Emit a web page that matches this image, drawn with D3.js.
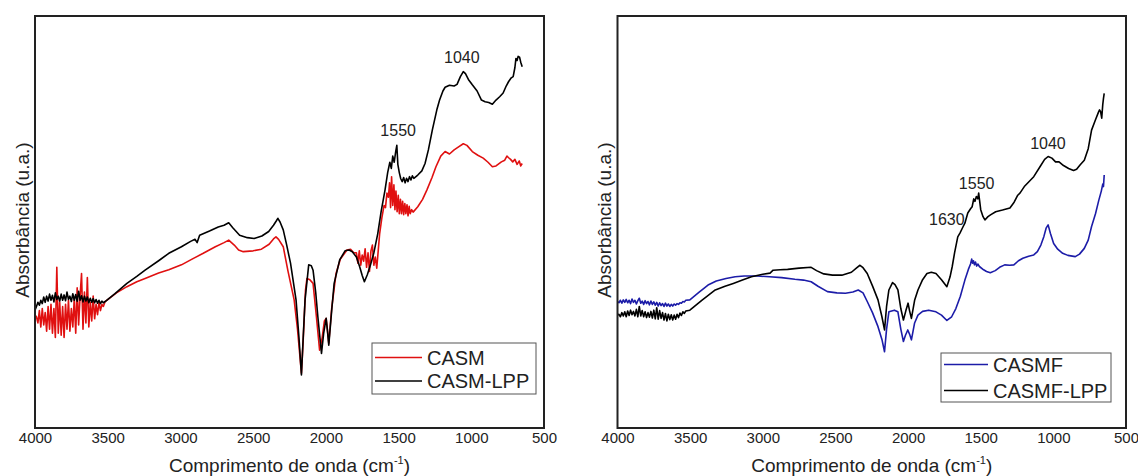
<!DOCTYPE html>
<html>
<head>
<meta charset="utf-8">
<script src="https://cdn.jsdelivr.net/npm/d3@7"></script>
<style>
  html, body { margin: 0; padding: 0; background: #fff; }
  svg { display: block; font-family: Arial, "Liberation Sans", sans-serif; }
</style>
</head>
<body>
<svg id="chart" width="1138" height="476"></svg>
<script>
// ---------- DATA (wavenumber cm-1, absorbance a.u.) ----------
const xTicks = [4000, 3500, 3000, 2500, 2000, 1500, 1000, 500];

const casm = [
  [4000,27.4],[3990,27.0],[3980,25.5],[3970,28.5],[3960,24.5],[3950,29.0],[3940,25.0],[3930,28.0],[3920,23.5],
  [3910,29.5],[3900,24.0],[3890,30.0],[3880,23.0],[3870,29.0],[3860,22.0],[3850,39.0],[3840,23.0],[3830,30.5],
  [3820,22.5],[3810,29.5],[3800,22.0],[3790,30.0],[3780,24.0],[3770,31.0],[3760,23.5],[3750,29.0],[3740,24.5],
  [3730,31.5],[3720,23.0],[3710,34.0],[3700,25.0],[3690,32.0],[3680,37.5],[3670,24.0],[3660,33.0],[3650,25.5],
  [3640,36.5],[3630,24.5],[3620,30.5],[3610,26.0],[3600,32.0],[3590,26.5],[3580,30.0],[3570,27.5],[3560,30.5],
  [3550,28.5],[3540,30.0],[3530,29.5],[3518,30.7],[3440,32.8],[3368,34.3],[3300,35.5],[3243,36.3],[3150,37.6],
  [3080,38.4],[2993,39.6],[2920,41.0],[2843,42.4],[2760,44.0],[2700,45.0],[2668,45.6],[2630,44.4],[2600,43.2],
  [2568,42.8],[2500,43.0],[2443,43.4],[2390,44.6],[2360,45.9],[2343,46.4],[2325,45.8],[2293,44.0],[2260,38.0],
  [2218,31.1],[2195,24.0],[2168,13.3],[2155,22.0],[2140,33.5],[2130,36.3],[2110,36.0],[2088,35.1],[2065,27.0],
  [2043,18.9],[2025,22.0],[2010,26.0],[1998,26.6],[1990,24.0],[1980,20.6],[1960,29.0],[1930,37.5],[1900,41.0],
  [1855,43.2],[1830,43.4],[1810,42.6],[1790,42.5],[1780,40.0],[1770,43.0],[1760,39.5],[1750,42.0],[1740,40.5],
  [1730,43.5],[1720,39.0],[1710,42.5],[1700,38.0],[1690,43.0],[1680,44.4],[1670,39.5],[1660,41.5],[1650,38.8],
  [1640,43.0],[1630,47.2],[1615,51.0],[1600,54.0],[1590,53.5],[1580,57.0],[1570,56.0],[1562,59.5],[1555,53.5],
  [1548,61.0],[1540,54.0],[1532,59.0],[1525,53.0],[1518,57.5],[1510,52.5],[1502,56.5],[1495,52.0],[1487,55.5],
  [1480,52.0],[1472,55.0],[1465,51.8],[1457,54.5],[1450,52.0],[1442,54.2],[1435,51.5],[1427,53.8],[1420,52.0],
  [1410,53.0],[1400,52.4],[1368,53.7],[1335,55.5],[1305,57.8],[1270,60.8],[1243,63.4],[1210,66.0],[1180,67.1],
  [1150,66.5],[1118,67.5],[1085,68.3],[1055,69.0],[1030,68.6],[993,67.1],[955,66.2],[918,65.5],[885,64.5],
  [855,63.4],[830,63.6],[793,64.6],[770,65.0],[755,66.0],[743,65.6],[730,65.2],[715,64.6],[700,65.2],[685,64.0],
  [670,64.8],[660,63.6],[650,64.2]
];

const casmLpp = [
  [4000,28.6],[3990,29.5],[3980,30.5],[3970,29.8],[3960,31.0],[3950,30.2],[3940,31.8],[3930,30.5],[3920,32.0],
  [3910,30.8],[3900,32.5],[3890,31.0],[3880,32.2],[3870,30.6],[3860,32.8],[3850,31.2],[3840,32.0],[3830,30.8],
  [3820,32.5],[3810,31.0],[3800,32.3],[3790,30.9],[3780,33.0],[3770,31.2],[3760,32.0],[3750,30.7],[3740,32.6],
  [3730,31.0],[3720,32.4],[3710,30.8],[3700,33.2],[3690,31.0],[3680,32.1],[3670,30.6],[3660,32.0],[3650,30.8],
  [3640,31.8],[3630,30.4],[3620,31.5],[3610,30.5],[3600,31.4],[3590,30.4],[3580,31.2],[3570,30.3],[3560,31.0],
  [3550,30.2],[3540,30.8],[3530,30.4],[3518,30.7],[3450,32.6],[3368,35.1],[3300,36.8],[3243,38.3],[3150,40.6],
  [3080,42.4],[2993,44.0],[2930,45.3],[2900,45.8],[2885,45.0],[2868,46.8],[2800,47.8],[2740,48.8],[2700,49.2],
  [2668,49.8],[2640,48.6],[2593,46.8],[2540,46.2],[2493,46.0],[2440,46.6],[2393,47.7],[2360,49.2],[2340,50.3],
  [2330,50.9],[2315,50.0],[2293,48.1],[2270,44.5],[2243,40.0],[2205,31.1],[2185,22.0],[2168,12.9],[2155,22.5],
  [2143,31.1],[2118,39.6],[2100,39.4],[2088,38.3],[2070,33.0],[2055,27.0],[2030,18.1],[2015,23.0],[1998,26.6],
  [1990,24.0],[1980,20.1],[1960,28.5],[1943,35.1],[1905,40.8],[1868,43.0],[1840,43.2],[1818,42.8],[1790,41.5],
  [1768,39.2],[1750,37.0],[1735,35.5],[1715,37.2],[1693,39.6],[1670,42.5],[1643,47.2],[1620,52.5],[1593,57.8],
  [1575,62.0],[1560,64.5],[1550,63.0],[1540,66.0],[1530,64.5],[1520,67.0],[1512,68.6],[1505,64.0],[1495,62.0],
  [1485,60.5],[1475,59.8],[1465,60.8],[1455,59.5],[1445,60.6],[1435,59.8],[1425,61.0],[1415,60.2],[1405,61.2],
  [1395,60.6],[1368,61.4],[1340,62.4],[1318,64.2],[1295,67.5],[1268,72.3],[1235,77.5],[1218,79.6],[1195,81.8],
  [1180,82.7],[1150,83.2],[1118,83.0],[1098,83.4],[1075,85.3],[1055,86.5],[1040,86.0],[1020,84.6],[993,83.3],
  [960,81.8],[930,79.6],[905,79.2],[880,79.0],[855,78.6],[830,79.6],[805,80.4],[781,81.3],[760,83.0],[743,84.1],
  [725,85.0],[712,85.3],[700,87.5],[693,89.7],[685,89.2],[678,90.2],[668,90.0],[660,88.8],[650,87.7]
];

const casmf = [
  [4000,30.7],[3990,30.4],[3980,31.0],[3970,30.3],[3960,31.1],[3950,30.5],[3940,31.2],[3930,30.4],[3920,31.0],
  [3910,30.2],[3900,31.3],[3890,30.5],[3880,31.0],[3870,30.1],[3860,30.9],[3850,31.5],[3840,30.3],[3830,30.8],
  [3820,30.0],[3810,30.9],[3800,30.2],[3790,30.7],[3780,29.9],[3770,30.8],[3760,30.0],[3750,30.6],[3740,29.8],
  [3730,30.5],[3720,29.6],[3710,30.4],[3700,29.7],[3690,30.2],[3680,29.5],[3670,30.3],[3660,29.6],[3650,30.1],
  [3640,29.5],[3630,30.0],[3620,29.6],[3610,30.1],[3600,29.8],[3590,30.2],[3580,30.0],[3570,30.4],[3560,30.3],
  [3550,30.7],[3540,30.6],[3530,31.0],[3502,31.1],[3440,32.9],[3377,34.7],[3320,35.7],[3253,36.3],[3190,36.7],
  [3128,36.9],[3040,36.9],[2954,36.7],[2870,36.5],[2779,36.1],[2720,35.9],[2667,35.5],[2620,34.4],[2555,33.1],
  [2490,32.8],[2431,32.7],[2380,33.0],[2343,33.5],[2310,32.8],[2281,30.7],[2245,28.0],[2207,24.6],[2180,21.5],
  [2162,18.5],[2148,24.0],[2132,28.2],[2094,28.6],[2070,28.2],[2050,24.0],[2032,21.0],[2018,22.5],[2002,23.8],
  [1990,22.8],[1977,21.4],[1955,25.5],[1932,27.4],[1900,28.3],[1858,28.6],[1808,28.2],[1770,27.4],[1733,26.1],
  [1700,27.0],[1671,29.0],[1640,32.0],[1609,35.9],[1585,38.5],[1570,39.8],[1562,41.0],[1556,40.0],[1550,40.6],
  [1543,39.6],[1536,40.3],[1528,39.3],[1520,39.8],[1509,39.2],[1480,38.4],[1460,38.0],[1434,37.7],[1400,38.2],
  [1370,39.0],[1335,39.6],[1300,39.5],[1272,39.6],[1240,40.6],[1210,41.2],[1170,41.7],[1135,42.0],[1110,42.8],
  [1086,44.4],[1065,46.5],[1050,48.5],[1036,49.3],[1020,47.2],[998,44.8],[970,43.4],[936,42.4],[900,41.9],
  [849,41.6],[820,42.2],[787,43.6],[760,45.6],[737,48.9],[710,52.0],[687,55.3],[670,57.5],[660,59.2],[655,58.6],
  [650,61.4]
];

const casmfLpp = [
  [4000,27.4],[3990,27.6],[3980,27.0],[3970,28.0],[3960,27.2],[3950,28.2],[3940,27.0],[3930,28.4],[3920,27.3],
  [3910,28.6],[3900,27.5],[3890,28.3],[3880,27.2],[3870,28.8],[3860,27.0],[3850,29.5],[3840,27.2],[3830,28.5],
  [3820,27.0],[3810,28.2],[3800,26.8],[3790,28.0],[3780,26.9],[3770,28.3],[3760,26.7],[3750,28.6],[3740,26.5],
  [3730,29.2],[3720,26.4],[3710,28.5],[3700,26.6],[3690,28.0],[3680,26.2],[3670,27.8],[3660,26.0],[3650,27.6],
  [3640,26.3],[3630,27.5],[3620,26.2],[3610,27.4],[3600,26.4],[3590,27.6],[3580,26.8],[3570,27.9],[3560,27.3],
  [3550,28.2],[3540,27.8],[3530,28.4],[3502,28.6],[3420,31.0],[3327,33.5],[3260,34.4],[3203,35.1],[3140,35.9],
  [3078,36.7],[3000,37.3],[2950,37.6],[2929,38.3],[2880,38.4],[2829,38.5],[2750,38.8],[2667,39.0],[2630,38.2],
  [2580,37.4],[2520,37.1],[2456,37.1],[2390,37.8],[2350,39.0],[2331,39.5],[2310,38.9],[2281,37.5],[2245,34.5],
  [2207,31.1],[2180,27.0],[2162,23.8],[2148,29.5],[2132,33.5],[2107,35.3],[2090,34.8],[2070,33.5],[2050,29.0],
  [2032,26.2],[2015,28.5],[2000,30.3],[1990,28.5],[1977,26.6],[1955,31.0],[1932,33.5],[1900,36.0],[1870,37.5],
  [1840,37.8],[1808,37.5],[1770,36.0],[1733,34.3],[1711,36.7],[1696,39.2],[1680,42.5],[1658,46.4],[1643,47.3],
  [1625,48.6],[1609,49.7],[1589,52.2],[1570,53.2],[1559,53.7],[1548,55.6],[1540,55.0],[1530,56.2],[1520,55.6],
  [1514,57.0],[1500,53.0],[1484,51.3],[1471,50.5],[1450,51.3],[1430,51.8],[1397,52.5],[1350,52.9],[1299,53.4],
  [1270,54.8],[1245,56.5],[1230,57.0],[1200,58.6],[1170,59.7],[1135,61.0],[1092,63.4],[1060,65.2],[1036,65.9],
  [1010,65.5],[985,64.6],[961,64.6],[930,63.7],[895,63.0],[861,62.5],[840,62.8],[815,63.9],[787,65.0],[760,67.8],
  [737,72.3],[710,74.8],[690,76.6],[682,77.2],[675,76.8],[667,75.2],[660,78.5],[655,80.0],[650,81.2]
];

const labelsLeft = [ {text: "1550", wn: 1503, v: 72.2}, {text: "1040", wn: 1065, v: 90.0} ];
const labelsRight = [ {text: "1040", wn: 1037, v: 69.2}, {text: "1550", wn: 1528, v: 59.5}, {text: "1630", wn: 1733, v: 50.7} ];

const legendLeft = ["CASM", "CASM-LPP"];
const legendRight = ["CASMF", "CASMF-LPP"];

// ---------- DRAW ----------
const svg = d3.select("#chart");
const RED = "#e01010", BLUE = "#1c1ca8", BLACK = "#000000";

function panel(cfg) {
  const x = d3.scaleLinear().domain([4000, 500]).range([cfg.x0, cfg.x1]);
  const y = d3.scaleLinear().domain([0, 100]).range([cfg.y1, cfg.y0]);
  const g = svg.append("g");
  const clipId = "clip" + cfg.id;
  svg.append("clipPath").attr("id", clipId).append("rect")
    .attr("x", cfg.x0).attr("y", cfg.y0).attr("width", cfg.x1 - cfg.x0).attr("height", cfg.y1 - cfg.y0);

  const line = d3.line().x(d => x(d[0])).y(d => y(d[1]));
  cfg.series.forEach(s => {
    g.append("path").datum(s.data)
      .attr("clip-path", `url(#${clipId})`)
      .attr("fill", "none").attr("stroke", s.color).attr("stroke-width", 1.6)
      .attr("stroke-linejoin", "round").attr("d", line);
  });

  // frame
  g.append("rect").attr("x", cfg.x0).attr("y", cfg.y0)
    .attr("width", cfg.x1 - cfg.x0).attr("height", cfg.y1 - cfg.y0)
    .attr("fill", "none").attr("stroke", "#222").attr("stroke-width", 2);

  // x axis (labels only)
  const ax = g.append("g").attr("transform", `translate(0,${cfg.y1})`)
    .call(d3.axisBottom(x).tickValues(xTicks).tickSize(0).tickPadding(4).tickFormat(d3.format("d")));
  ax.select(".domain").remove();
  ax.selectAll("text").attr("font-size", 15).attr("fill", "#222")
    .attr("font-family", "Arial, 'Liberation Sans', sans-serif");

  // peak labels
  cfg.labels.forEach(l => {
    g.append("text").attr("x", x(l.wn)).attr("y", y(l.v)).attr("dy", "0.36em")
      .attr("text-anchor", "middle").attr("font-size", 16).attr("fill", "#222").text(l.text);
  });

  // axis titles
  const xt = g.append("text").attr("x", (cfg.x0 + cfg.x1) / 2).attr("y", 472)
    .attr("text-anchor", "middle").attr("font-size", 19).attr("fill", "#222");
  xt.append("tspan").text("Comprimento de onda (cm");
  xt.append("tspan").attr("font-size", 11).attr("dy", -8).text("-1");
  xt.append("tspan").attr("dy", 8).text(")");

  g.append("text").attr("transform", `translate(${cfg.ytX},220) rotate(-90)`)
    .attr("text-anchor", "middle").attr("dominant-baseline", "central")
    .attr("font-size", 19).attr("fill", "#222").text("Absorbância (u.a.)");

  // legend
  const L = cfg.legend;
  g.append("rect").attr("x", L.x).attr("y", L.y).attr("width", L.w).attr("height", L.h)
    .attr("fill", "#fff").attr("stroke", "#555").attr("stroke-width", 1);
  cfg.series.forEach((s, i) => {
    const yy = L.y + L.rows[i];
    g.append("line").attr("x1", L.x + 3).attr("x2", L.x + 3 + L.lineLen)
      .attr("y1", yy).attr("y2", yy).attr("stroke", s.color).attr("stroke-width", 1.5);
    g.append("text").attr("x", L.x + L.textOff).attr("y", yy).attr("dominant-baseline", "central")
      .attr("font-size", 20).attr("fill", "#222").text(s.name);
  });
}

panel({
  id: "L", x0: 35, x1: 544, y0: 16, y1: 428, ytX: 22.5,
  series: [ {name: legendLeft[0], data: casm, color: RED}, {name: legendLeft[1], data: casmLpp, color: BLACK} ],
  labels: labelsLeft,
  legend: {x: 372, y: 343, w: 164, h: 51, rows: [14.5, 38], lineLen: 47, textOff: 55}
});

panel({
  id: "R", x0: 617.5, x1: 1126, y0: 16, y1: 428, ytX: 604.5,
  series: [ {name: legendRight[0], data: casmf, color: BLUE}, {name: legendRight[1], data: casmfLpp, color: BLACK} ],
  labels: labelsRight,
  legend: {x: 941, y: 353, w: 170, h: 49, rows: [11.5, 37.5], lineLen: 44, textOff: 52}
});
</script>
</body>
</html>
